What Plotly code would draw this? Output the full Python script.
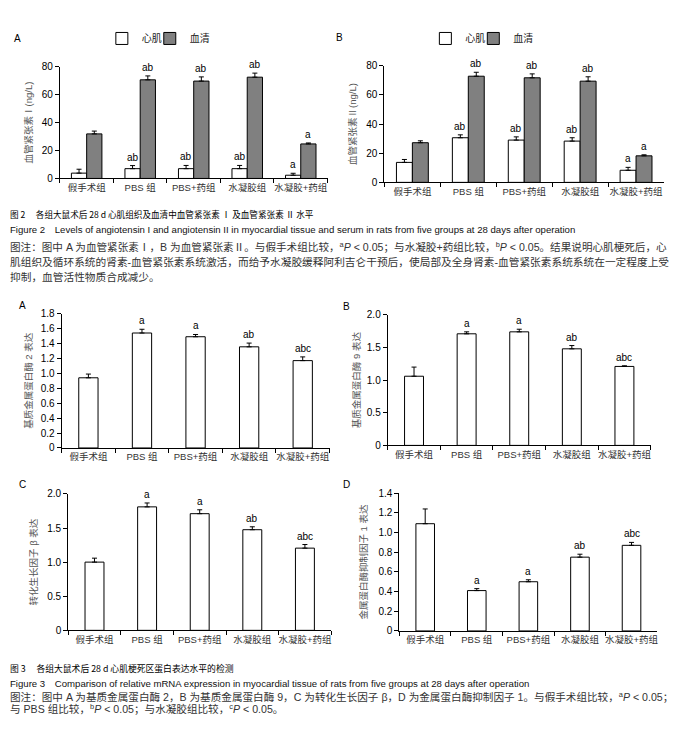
import plotly.graph_objects as go

# ---------------- data ----------------
groups = ["假手术组", "PBS 组", "PBS+药组", "水凝胶组", "水凝胶+药组"]
series_names = ["心肌", "血清"]

# Figure 2A: angiotensin I (ng/L)
ang1_myo = [3.8, 7.0, 7.0, 7.0, 2.3]
ang1_myo_err = [2.8, 2.2, 2.3, 2.3, 1.4]
ang1_ser = [31.9, 70.6, 69.7, 72.5, 24.7]
ang1_ser_err = [2.0, 2.8, 3.0, 2.9, 0.7]
ang1_myo_sig = ["", "ab", "ab", "ab", "a"]
ang1_ser_sig = ["", "ab", "ab", "ab", "a"]

# Figure 2B: angiotensin II (ng/L)
ang2_myo = [13.7, 30.6, 29.0, 28.3, 8.3]
ang2_myo_err = [2.0, 2.0, 2.2, 2.3, 2.0]
ang2_ser = [27.2, 72.8, 71.7, 69.4, 18.2]
ang2_ser_err = [1.3, 2.7, 2.7, 3.0, 0.7]
ang2_myo_sig = ["", "ab", "ab", "ab", "a"]
ang2_ser_sig = ["", "ab", "ab", "ab", "a"]

# Figure 3
mmp2 = [0.94, 1.54, 1.49, 1.355, 1.17]
mmp2_err = [0.05, 0.05, 0.03, 0.05, 0.05]
mmp9 = [1.06, 1.71, 1.74, 1.48, 1.21]
mmp9_err = [0.14, 0.03, 0.04, 0.05, 0.01]
tgfb = [1.0, 1.81, 1.71, 1.475, 1.205]
tgfb_err = [0.058, 0.057, 0.057, 0.043, 0.053]
timp1 = [1.09, 0.41, 0.50, 0.75, 0.87]
timp1_err = [0.15, 0.02, 0.02, 0.03, 0.03]
fig3_sig = ["", "a", "a", "ab", "abc"]

ticks_18 = [0, 0.2, 0.4, 0.6, 0.8, 1.0, 1.2, 1.4, 1.6, 1.8]
ticks_18_txt = ["0", "0.2", "0.4", "0.6", "0.8", "1.0", "1.2", "1.4", "1.6", "1.8"]
ticks_20 = [0, 0.5, 1.0, 1.5, 2.0]
ticks_20_txt = ["0", "0.5", "1.0", "1.5", "2.0"]
ticks_14 = [0, 0.2, 0.4, 0.6, 0.8, 1.0, 1.2, 1.4]
ticks_14_txt = ["0", "0.2", "0.4", "0.6", "0.8", "1.0", "1.2", "1.4"]
ticks_80 = [0, 20, 40, 60, 80]

# ---------------- styling ----------------
W, H = 676, 735
FONT = "Liberation Sans, Arial, Noto Sans CJK SC"
CJK = "Noto Sans CJK SC, Liberation Sans"
BARGAP = 0.43
SINGLE_W = 0.36


def px_x(p):
    return p / W


def px_y(p):
    return 1 - p / H


fig = go.Figure()

panels = [
    ("2A", "x", "y", (60, 328), (61.7, 175.3)),
    ("2B", "x2", "y2", (385, 665), (60.7, 179.3)),
    ("3A", "x3", "y3", (61.7, 330), (312.7, 449.3)),
    ("3B", "x4", "y4", (388.3, 651.7), (314, 446.7)),
    ("3C", "x5", "y5", (68.3, 331.7), (496, 634.7)),
    ("3D", "x6", "y6", (400, 658.3), (495.3, 635.3)),
]


def err(arr):
    return dict(type="data", array=arr, arrayminus=[0] * len(arr), symmetric=False,
                color="black", thickness=1, width=2.5, visible=True)


for (vals_m, err_m, vals_s, err_s, xa, ya, leg_m, leg_s) in [
    (ang1_myo, ang1_myo_err, ang1_ser, ang1_ser_err, "x", "y", "legend", "legend3"),
    (ang2_myo, ang2_myo_err, ang2_ser, ang2_ser_err, "x2", "y2", "legend2", "legend4"),
]:
    fig.add_trace(go.Bar(x=groups, y=vals_m, name=series_names[0], xaxis=xa, yaxis=ya,
                         marker=dict(color="white", line=dict(color="black", width=1)),
                         error_y=err(err_m), legend=leg_m, offsetgroup="m" + xa))
    fig.add_trace(go.Bar(x=groups, y=vals_s, name=series_names[1], xaxis=xa, yaxis=ya,
                         marker=dict(color="#808080", line=dict(color="black", width=1)),
                         error_y=err(err_s), legend=leg_s, offsetgroup="s" + xa))

for vals, e, xa, ya in [
    (mmp2, mmp2_err, "x3", "y3"),
    (mmp9, mmp9_err, "x4", "y4"),
    (tgfb, tgfb_err, "x5", "y5"),
    (timp1, timp1_err, "x6", "y6"),
]:
    fig.add_trace(go.Bar(x=groups, y=vals, xaxis=xa, yaxis=ya, width=SINGLE_W,
                         marker=dict(color="white", line=dict(color="black", width=1)),
                         error_y=err(e), showlegend=False))

annotations = []
half = (1 - BARGAP) / 4
for (vals, e, sig, xr, yr, off) in [
    (ang1_myo, ang1_myo_err, ang1_myo_sig, "x", "y", -half),
    (ang1_ser, ang1_ser_err, ang1_ser_sig, "x", "y", half),
    (ang2_myo, ang2_myo_err, ang2_myo_sig, "x2", "y2", -half),
    (ang2_ser, ang2_ser_err, ang2_ser_sig, "x2", "y2", half),
    (mmp2, mmp2_err, fig3_sig, "x3", "y3", 0),
    (mmp9, mmp9_err, fig3_sig, "x4", "y4", 0),
    (tgfb, tgfb_err, fig3_sig, "x5", "y5", 0),
    (timp1, timp1_err, fig3_sig, "x6", "y6", 0),
]:
    for i, (v, ee, s) in enumerate(zip(vals, e, sig)):
        if s:
            annotations.append(dict(x=i + off, y=v + ee, xref=xr, yref=yr, text=s,
                                    showarrow=False, yanchor="bottom", yshift=1,
                                    font=dict(family=FONT, size=10, color="black")))

for letter, x, y in [("A", 18, 33), ("B", 340, 32), ("A", 22.7, 304), ("B", 346.7, 305),
                     ("C", 22.7, 486), ("D", 346.7, 486)]:
    annotations.append(dict(x=px_x(x), y=px_y(y), xref="paper", yref="paper", text=letter,
                            showarrow=False, xanchor="center", yanchor="middle",
                            font=dict(family=FONT, size=10, color="black")))

cap_lines = [
    (211.5, "图 2　 各组大鼠术后 28 d 心肌组织及血清中血管紧张素 Ⅰ 及血管紧张素 Ⅱ 水平", 8.6, "#000", CJK),
    (227.5, "Figure 2　Levels of angiotensin I and angiotensin II in myocardial tissue and serum in rats from five groups at 28 days after operation", 9.6, "#111", FONT),
    (244, "图注：图中 A 为血管紧张素Ⅰ，B 为血管紧张素Ⅱ。与假手术组比较，<sup>a</sup><i>P</i> &lt; 0.05；与水凝胶+药组比较，<sup>b</sup><i>P</i> &lt; 0.05。结果说明心肌梗死后，心", 10.6, "#333", FONT),
    (260, "肌组织及循环系统的肾素-血管紧张素系统激活，而给予水凝胶缓释阿利吉仑干预后，使局部及全身肾素-血管紧张素系统系统在一定程度上受", 10.7, "#333", FONT),
    (275, "抑制，血管活性物质合成减少。", 10.7, "#333", FONT),
    (673, "图 3　 各组大鼠术后 28 d 心肌梗死区蛋白表达水平的检测", 8.8, "#000", CJK),
    (689, "Figure 3　Comparison of relative mRNA expression in myocardial tissue of rats from five groups at 28 days after operation", 9.6, "#111", FONT),
    (702, "图注：图中 A 为基质金属蛋白酶 2，B 为基质金属蛋白酶 9，C 为转化生长因子 β，D 为金属蛋白酶抑制因子 1。与假手术组比较，<sup>a</sup><i>P</i> &lt; 0.05；", 10.6, "#333", FONT),
    (714.5, "与 PBS 组比较，<sup>b</sup><i>P</i> &lt; 0.05；与水凝胶组比较，<sup>c</sup><i>P</i> &lt; 0.05。", 10.6, "#333", FONT),
]
for y, txt, sz, col, fam in cap_lines:
    annotations.append(dict(x=px_x(8), y=px_y(y), xref="paper", yref="paper", text=txt,
                            showarrow=False, xanchor="left", yanchor="middle",
                            font=dict(family=fam, size=sz, color=col)))


def leg(xpx, ypx):
    return dict(orientation="h", x=px_x(xpx), y=px_y(ypx), xanchor="left", yanchor="middle",
                font=dict(family=FONT, size=10, color="#222"), bgcolor="rgba(0,0,0,0)",
                itemwidth=30)


layout = dict(
    width=W, height=H, margin=dict(l=0, r=0, t=0, b=0),
    paper_bgcolor="white", plot_bgcolor="white",
    barmode="group", bargap=BARGAP, bargroupgap=0,
    font=dict(family=FONT, size=10, color="black"),
    annotations=annotations,
    legend=leg(102, 33), legend3=leg(150, 33),
    legend2=leg(426, 33), legend4=leg(474, 33),
)

ytitles = {
    "2A": ("血管紧张素Ⅰ(ng/L)", [0, 80], ticks_80, [str(t) for t in ticks_80], 7),
    "2B": ("血管紧张素Ⅱ(ng/L)", [0, 80], ticks_80, [str(t) for t in ticks_80], 7),
    "3A": ("基质金属蛋白酶 2 表达", [0, 1.8], ticks_18, ticks_18_txt, 6),
    "3B": ("基质金属蛋白酶 9 表达", [0, 2.0], ticks_20, ticks_20_txt, 4),
    "3C": ("转化生长因子 β 表达", [0, 2.0], ticks_20, ticks_20_txt, 7),
    "3D": ("金属蛋白酶抑制因子 1 表达", [0, 1.4], ticks_14, ticks_14_txt, 9),
}

for name, xa, ya, (x0, x1), (y0, y1) in panels:
    xk = "xaxis" + xa[1:]
    yk = "yaxis" + ya[1:]
    title, rng, tv, tt, stand = ytitles[name]
    layout[xk] = dict(domain=[px_x(x0), px_x(x1)], anchor=ya, type="category",
                      categoryorder="array", categoryarray=groups, range=[-0.5, 4.5],
                      showline=True, linecolor="black", linewidth=1, mirror=False,
                      ticks="outside", tickson="boundaries", ticklen=4, tickcolor="black",
                      showgrid=False, zeroline=False, tickangle=0,
                      tickfont=dict(family=FONT, size=9.5, color="#333"))
    layout[yk] = dict(domain=[px_y(y1), px_y(y0)], anchor=xa, range=rng,
                      tickvals=tv, ticktext=tt, showline=True, linecolor="black", linewidth=1,
                      ticks="outside", ticklen=4, tickcolor="black", showgrid=False,
                      zeroline=False, tickfont=dict(family=FONT, size=10, color="black"),
                      title=dict(text=title, standoff=stand,
                                 font=dict(family=FONT, size=9.5, color="#555")))

fig.update_layout(**layout)
fig.write_html("out.html", config={"displayModeBar": False},
               post_script="document.body.style.margin='0';document.body.style.overflow='hidden';")
